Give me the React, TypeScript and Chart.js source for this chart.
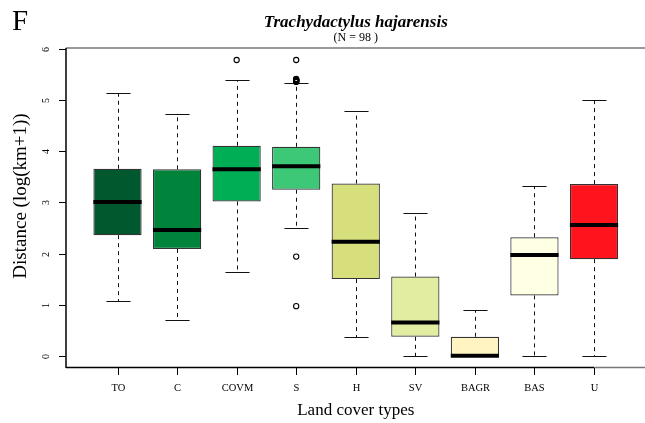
import { useEffect, useRef } from 'react';
import { Chart, registerables } from 'chart.js';

Chart.register(...registerables);

// ---- data ----
const categories = ['TO', 'C', 'COVM', 'S', 'H', 'SV', 'BAGR', 'BAS', 'U'];
const lowerWhisker = [1.08, 0.70, 1.63, 2.51, 0.37, 0.00, 0.00, 0.00, 0.00];
const q1 = [2.36, 2.09, 3.02, 3.25, 1.50, 0.37, 0.00, 1.18, 1.89];
const median = [3.01, 2.46, 3.65, 3.71, 2.23, 0.65, 0.00, 1.97, 2.56];
const q3 = [3.66, 3.65, 4.11, 4.09, 3.37, 1.55, 0.37, 2.32, 3.36];
const upperWhisker = [5.15, 4.73, 5.40, 5.33, 4.79, 2.80, 0.89, 3.32, 5.01];
const outlierCategory = [3, 4, 4, 4, 4, 4, 4, 4, 4, 4, 4, 4];
const outlierValue = [5.79, 5.79, 5.36, 5.37, 5.38, 5.385, 5.39, 5.40, 5.41, 5.42, 1.94, 0.97];
const boxColors = ['#00592E', '#00843C', '#00AE55', '#3DC878', '#D7DF7C', '#E2EDA1', '#FFF4C2', '#FFFFE4', '#FF141E'];
const yTicks = [0, 1, 2, 3, 4, 5, 6];

const titleText = 'Trachydactylus hajarensis';
const subtitleText = '(N = 98 )';
const xLabel = 'Land cover types';
const yLabel = 'Distance (log(km+1))';
const panelLetter = 'F';

const SERIF = '"Liberation Serif", "Times New Roman", serif';

export default function App() {
  const ref = useRef<HTMLCanvasElement>(null);

  useEffect(() => {
    if (!ref.current) return;

    const boxPlugin = {
      id: 'boxExtras',
      beforeDatasetsDraw(chart: any) {
        const { ctx, scales } = chart;
        const x = scales.x;
        const y = scales.y;
        const meta = chart.getDatasetMeta(1);
        ctx.save();
        ctx.strokeStyle = '#111';
        ctx.lineWidth = 1;
        categories.forEach((_, i) => {
          const bw = meta.data[i] ? meta.data[i].width : 48;
          const px = Math.round(x.getPixelForValue(i + 1)) + 0.5;
          const yq1 = y.getPixelForValue(q1[i]);
          const yq3 = y.getPixelForValue(q3[i]);
          const yLo = Math.round(y.getPixelForValue(lowerWhisker[i])) + 0.5;
          const yHi = Math.round(y.getPixelForValue(upperWhisker[i])) + 0.5;
          ctx.setLineDash([4, 4]);
          ctx.beginPath();
          ctx.moveTo(px, yq3);
          ctx.lineTo(px, yHi);
          ctx.moveTo(px, yq1);
          ctx.lineTo(px, yLo);
          ctx.stroke();
          ctx.setLineDash([]);
          ctx.beginPath();
          ctx.moveTo(px - bw / 4, yHi);
          ctx.lineTo(px + bw / 4, yHi);
          ctx.moveTo(px - bw / 4, yLo);
          ctx.lineTo(px + bw / 4, yLo);
          ctx.stroke();
        });
        ctx.restore();
      },
      afterDatasetsDraw(chart: any) {
        const { ctx, scales } = chart;
        const x = scales.x;
        const y = scales.y;
        const meta = chart.getDatasetMeta(1);
        ctx.save();
        ctx.strokeStyle = '#000';
        ctx.lineWidth = 4;
        ctx.lineCap = 'butt';
        categories.forEach((_, i) => {
          const bw = meta.data[i] ? meta.data[i].width : 48;
          const px = x.getPixelForValue(i + 1);
          const ym = y.getPixelForValue(median[i]);
          ctx.beginPath();
          ctx.moveTo(px - bw / 2, ym);
          ctx.lineTo(px + bw / 2, ym);
          ctx.stroke();
        });
        ctx.restore();
      },
      afterDraw(chart: any) {
        const { ctx, scales, chartArea } = chart;
        const x = scales.x;
        const y = scales.y;
        const { left, right, top, bottom } = chartArea;
        ctx.save();
        // frame
        ctx.lineWidth = 1;
        ctx.strokeStyle = '#333';
        ctx.beginPath();
        ctx.moveTo(left, top);
        ctx.lineTo(right, top);
        ctx.stroke();
        ctx.strokeStyle = '#000';
        ctx.lineWidth = 1.5;
        ctx.beginPath();
        ctx.moveTo(left, top);
        ctx.lineTo(left, bottom);
        ctx.stroke();
        const lastX = x.getPixelForValue(categories.length);
        ctx.beginPath();
        ctx.moveTo(left, bottom - 0.5);
        ctx.lineTo(lastX, bottom - 0.5);
        ctx.stroke();
        ctx.strokeStyle = '#777';
        ctx.beginPath();
        ctx.moveTo(lastX, bottom - 0.5);
        ctx.lineTo(right, bottom - 0.5);
        ctx.stroke();

        // y ticks
        ctx.strokeStyle = '#000';
        ctx.lineWidth = 1;
        ctx.fillStyle = '#000';
        ctx.font = `10px ${SERIF}`;
        ctx.textAlign = 'center';
        ctx.textBaseline = 'middle';
        yTicks.forEach((v) => {
          const py = Math.round(y.getPixelForValue(v)) + 0.5;
          ctx.beginPath();
          ctx.moveTo(left - 7, py);
          ctx.lineTo(left, py);
          ctx.stroke();
          ctx.save();
          ctx.translate(left - 19.5, py);
          ctx.rotate(-Math.PI / 2);
          ctx.fillText(String(v), 0, 0);
          ctx.restore();
        });

        // x ticks
        ctx.font = `10.5px ${SERIF}`;
        categories.forEach((c, i) => {
          const px = Math.round(x.getPixelForValue(i + 1)) + 0.5;
          ctx.beginPath();
          ctx.moveTo(px, bottom);
          ctx.lineTo(px, bottom + 7);
          ctx.stroke();
          ctx.fillText(c, px, bottom + 20.5);
        });

        const cx = (x.getPixelForValue(1) + x.getPixelForValue(categories.length)) / 2;
        // axis titles
        ctx.font = `17px ${SERIF}`;
        ctx.textBaseline = 'alphabetic';
        ctx.fillText(xLabel, cx, 415);
        ctx.save();
        ctx.font = `19px ${SERIF}`;
        ctx.translate(26, 196);
        ctx.rotate(-Math.PI / 2);
        ctx.fillText(yLabel, 0, 0);
        ctx.restore();

        // title
        ctx.font = `italic bold 17px ${SERIF}`;
        ctx.fillText(titleText, cx, 27);
        ctx.font = `12px ${SERIF}`;
        ctx.fillText(subtitleText, cx, 41);

        // panel letter
        ctx.textAlign = 'left';
        ctx.font = `29px ${SERIF}`;
        ctx.fillText(panelLetter, 12, 30);
        ctx.restore();
      },
    };

    const chart = new Chart(ref.current, {
      type: 'bar',
      data: {
        datasets: [
          {
            type: 'scatter',
            data: outlierCategory.map((c, i) => ({ x: c, y: outlierValue[i] })),
            pointRadius: 2.6,
            pointBackgroundColor: 'rgba(0,0,0,0)',
            pointBorderColor: '#000',
            pointBorderWidth: 1.1,
            showLine: false,
          } as any,
          {
            type: 'bar',
            data: categories.map((_, i) => ({ x: i + 1, y: [q1[i], q3[i]] })),
            backgroundColor: boxColors,
            borderColor: '#333',
            borderWidth: 1.2,
            borderSkipped: false,
            categoryPercentage: 0.81,
            barPercentage: 1,
          } as any,
        ],
      },
      options: {
        responsive: false,
        devicePixelRatio: 1,
        animation: false,
        layout: { autoPadding: false, padding: { left: 66, right: 0, top: 48, bottom: 55 } },
        plugins: { legend: { display: false }, tooltip: { enabled: false }, title: { display: false } },
        scales: {
          x: { type: 'linear', min: 0.1353, max: 9.856, offset: false, display: false },
          y: { type: 'linear', min: -0.241, max: 6.025, display: false },
        },
      } as any,
      plugins: [boxPlugin],
    });

    return () => chart.destroy();
  }, []);

  return (
    <div style={{ position: 'fixed', left: 0, top: 0, width: 645, height: 423, background: '#fff' }}>
      <canvas ref={ref} width={645} height={423} style={{ display: 'block', width: 645, height: 423 }} />
    </div>
  );
}
